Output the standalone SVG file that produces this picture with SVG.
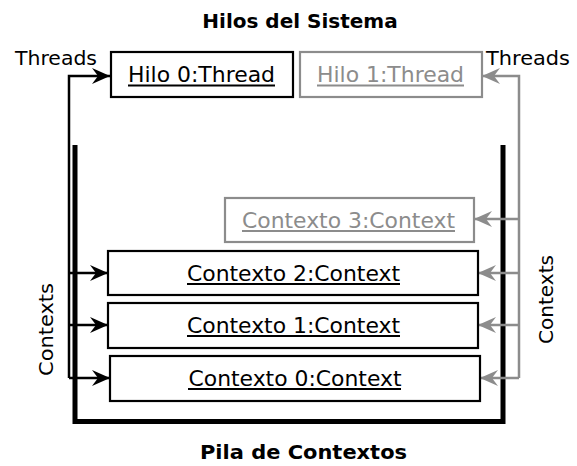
<svg xmlns="http://www.w3.org/2000/svg" width="577" height="466" viewBox="0 0 577 466">
<style>
text{font-family:"DejaVu Sans","Liberation Sans",sans-serif}
.t{font-size:20px;fill:#000}
.title{font-size:20px;font-weight:bold;fill:#000;text-anchor:middle}
.lbl{font-size:21px;text-anchor:middle}
.blk{fill:#fff;stroke:#000;stroke-width:2.2}
.gry{fill:#fff;stroke:#8c8c8c;stroke-width:2.2}
.bt{fill:#000}
.gt{fill:#8c8c8c}
.ub{stroke:#000;stroke-width:1.8}
.ug{stroke:#8c8c8c;stroke-width:1.8}
.cb{fill:none;stroke:#000;stroke-width:2.5}
.cg{fill:none;stroke:#8c8c8c;stroke-width:2.5}
</style>
<defs>
<marker id="ab" markerUnits="userSpaceOnUse" markerWidth="20" markerHeight="20" viewBox="-19 -9 20 18" refX="0" refY="0" orient="auto">
<path d="M0,0 L-18,-8 L-12,0 L-18,8 Z" fill="#000"/>
</marker>
<marker id="ag" markerUnits="userSpaceOnUse" markerWidth="20" markerHeight="20" viewBox="-19 -9 20 18" refX="0" refY="0" orient="auto">
<path d="M0,0 L-18,-8 L-12,0 L-18,8 Z" fill="#8c8c8c"/>
</marker>
</defs>

<text class="title" x="300" y="28">Hilos del Sistema</text>
<text class="title" x="303.5" y="459" textLength="207" lengthAdjust="spacingAndGlyphs">Pila de Contextos</text>

<g id="pila">
<polyline points="75,145 75,421.5 503,421.5 503,145" fill="none" stroke="#000" stroke-width="5"/>
</g>

<g id="connectors">
<polyline class="cb" points="69,378 69,76 110,76" marker-end="url(#ab)"/>
<line class="cb" x1="69" y1="273" x2="108" y2="273" marker-end="url(#ab)"/>
<line class="cb" x1="69" y1="325" x2="108" y2="325" marker-end="url(#ab)"/>
<line class="cb" x1="69" y1="378" x2="110" y2="378" marker-end="url(#ab)"/>
<polyline class="cg" points="519,378 519,76 482,76" marker-end="url(#ag)"/>
<line class="cg" x1="519" y1="219" x2="474" y2="219" marker-end="url(#ag)"/>
<line class="cg" x1="519" y1="273" x2="478" y2="273" marker-end="url(#ag)"/>
<line class="cg" x1="519" y1="325" x2="478" y2="325" marker-end="url(#ag)"/>
<line class="cg" x1="519" y1="378" x2="480" y2="378" marker-end="url(#ag)"/>
<text class="t" x="15" y="65" textLength="82" lengthAdjust="spacingAndGlyphs">Threads</text>
<text class="t" x="486" y="65" textLength="84" lengthAdjust="spacingAndGlyphs">Threads</text>
<text class="t" text-anchor="middle" transform="translate(53,329.5) rotate(-90)" textLength="93" lengthAdjust="spacingAndGlyphs">Contexts</text>
<text class="t" text-anchor="middle" transform="translate(553,299.5) rotate(-90)" textLength="89" lengthAdjust="spacingAndGlyphs">Contexts</text>
</g>

<g id="hilo0">
<rect class="blk" x="111" y="52" width="182" height="45"/>
<text class="lbl bt" x="201.5" y="82" textLength="147" lengthAdjust="spacingAndGlyphs">Hilo 0:Thread</text>
<line class="ub" x1="128" y1="85.5" x2="275" y2="85.5"/>
</g>

<g id="hilo1">
<rect class="gry" x="300" y="52" width="182" height="45"/>
<text class="lbl gt" x="390.5" y="82" textLength="147" lengthAdjust="spacingAndGlyphs">Hilo 1:Thread</text>
<line class="ug" x1="317" y1="85.5" x2="464" y2="85.5"/>
</g>

<g id="contexto3">
<rect class="gry" x="225" y="198" width="249" height="44"/>
<text class="lbl gt" x="348.5" y="228" textLength="213" lengthAdjust="spacingAndGlyphs">Contexto 3:Context</text>
<line class="ug" x1="242" y1="231" x2="455" y2="231"/>
</g>

<g id="contexto2">
<rect class="blk" x="108" y="251" width="370" height="44"/>
<text class="lbl bt" x="293.5" y="281" textLength="213" lengthAdjust="spacingAndGlyphs">Contexto 2:Context</text>
<line class="ub" x1="187" y1="284" x2="400" y2="284"/>
</g>

<g id="contexto1">
<rect class="blk" x="108" y="303" width="370" height="45"/>
<text class="lbl bt" x="293.5" y="333" textLength="213" lengthAdjust="spacingAndGlyphs">Contexto 1:Context</text>
<line class="ub" x1="187" y1="336" x2="400" y2="336"/>
</g>

<g id="contexto0">
<rect class="blk" x="110" y="356" width="370" height="45"/>
<text class="lbl bt" x="295" y="386" textLength="213" lengthAdjust="spacingAndGlyphs">Contexto 0:Context</text>
<line class="ub" x1="188" y1="389" x2="401" y2="389"/>
</g>
</svg>
